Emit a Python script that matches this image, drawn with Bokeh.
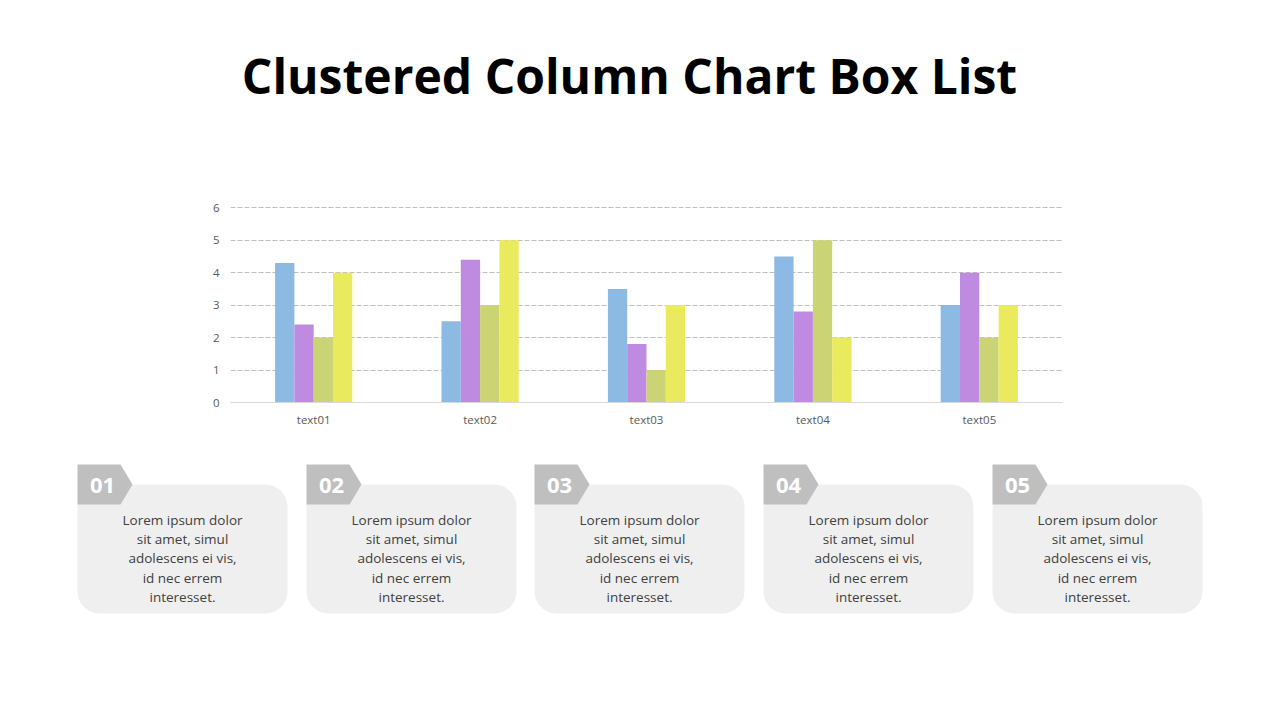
from bokeh.plotting import figure
from bokeh.layouts import column
from bokeh.models import Range1d, FixedTicker, FactorRange
from bokeh.transform import dodge
from bokeh.core.properties import value
from bokeh.embed import file_html
from bokeh.resources import INLINE

# ---- data ----
categories = ["text01", "text02", "text03", "text04", "text05"]
series1 = [4.3, 2.5, 3.5, 4.5, 3.0]
series2 = [2.4, 4.4, 1.8, 2.8, 4.0]
series3 = [2.0, 3.0, 1.0, 5.0, 2.0]
series4 = [4.0, 5.0, 3.0, 2.0, 3.0]
series_colors = ["#8cbae2", "#bf8be0", "#cbd474", "#eaea5e"]
y_ticks = [0, 1, 2, 3, 4, 5, 6]
title_text = "Clustered Column Chart Box List"
box_numbers = ["01", "02", "03", "04", "05"]
box_texts = ["Lorem ipsum dolor\nsit amet, simul\nadolescens ei vis,\nid nec errem\ninteresset."] * 5

W = 1264
FONT = "Open Sans"


def no_align(f):
    if "frame_align" in f.properties():
        f.frame_align = False
    return f


def blank(h, y0, y1):
    f = figure(width=W, height=h, x_range=Range1d(0, W), y_range=Range1d(y1, y0),
               output_backend="svg", toolbar_location=None, min_border=0)
    f.axis.visible = False
    f.grid.visible = False
    f.outline_line_color = None
    f.background_fill_color = "white"
    f.border_fill_color = "white"
    return no_align(f)

# ---- title ----
t = blank(180, 0, 180)
t.text(x=[629], y=[75], text=[title_text], text_font=value(FONT), text_font_style="bold",
       text_font_size="48px", text_color="black", text_align="center", text_baseline="middle")

# ---- chart ----
p = figure(width=W, height=260, x_range=FactorRange(*categories, range_padding=0),
           y_range=Range1d(0, 6.1), output_backend="svg", toolbar_location=None,
           min_border_left=230, min_border_right=W - 1062, min_border_top=24, min_border_bottom=38)
no_align(p)
p.outline_line_color = None
p.background_fill_color = "white"
p.border_fill_color = "white"
offsets = [-0.174, -0.058, 0.058, 0.174]
data = dict(cat=categories, s1=series1, s2=series2, s3=series3, s4=series4)
for key, off, col in zip(["s1", "s2", "s3", "s4"], offsets, series_colors):
    p.vbar(x=dodge("cat", off, range=p.x_range), top=key, bottom=0, width=0.116,
           source=data, fill_color=col, line_color=None)
p.xgrid.visible = False
p.ygrid.ticker = FixedTicker(ticks=y_ticks[1:])
p.ygrid.grid_line_color = "#bfbfbf"
p.ygrid.grid_line_dash = "5 2"
p.yaxis.ticker = FixedTicker(ticks=y_ticks)
p.yaxis.axis_line_color = None
p.yaxis.major_tick_line_color = None
p.yaxis.minor_tick_line_color = None
p.yaxis.major_label_standoff = 5
p.xaxis.axis_line_color = "#d9d9d9"
p.xaxis.major_tick_line_color = None
p.xaxis.major_label_standoff = 3
for ax in (p.xaxis, p.yaxis):
    ax.major_label_text_font = FONT
    ax.major_label_text_font_size = "11.5px"
    ax.major_label_text_color = "#595959"

# ---- boxes ----
b = blank(260, 440, 700)
lefts = [77, 306, 534, 763, 992]
bw = 210
b.quad(left=lefts, right=[l + bw for l in lefts], top=[484] * 5, bottom=[613] * 5,
       fill_color="#efefef", line_color=None, border_radius=22)
tab_xs = [[l, l + 43, l + 55, l + 43, l] for l in lefts]
tab_ys = [[464, 464, 484, 504, 504] for _ in lefts]
b.patches(xs=tab_xs, ys=tab_ys, fill_color="#bfbfbf", line_color=None)
b.text(x=[l + 25 for l in lefts], y=[485] * 5, text=box_numbers, text_font=value(FONT),
       text_font_style="bold", text_font_size="22px", text_color="white",
       text_align="center", text_baseline="middle")
b.text(x=[l + bw / 2 for l in lefts], y=[510] * 5, text=box_texts, text_font=value(FONT),
       text_font_size="13.5px", text_color="#404040", text_align="center",
       text_baseline="top", text_line_height=1.08)

layout = column(t, p, b, spacing=0)
open("out.html", "w").write(file_html(layout, INLINE))
